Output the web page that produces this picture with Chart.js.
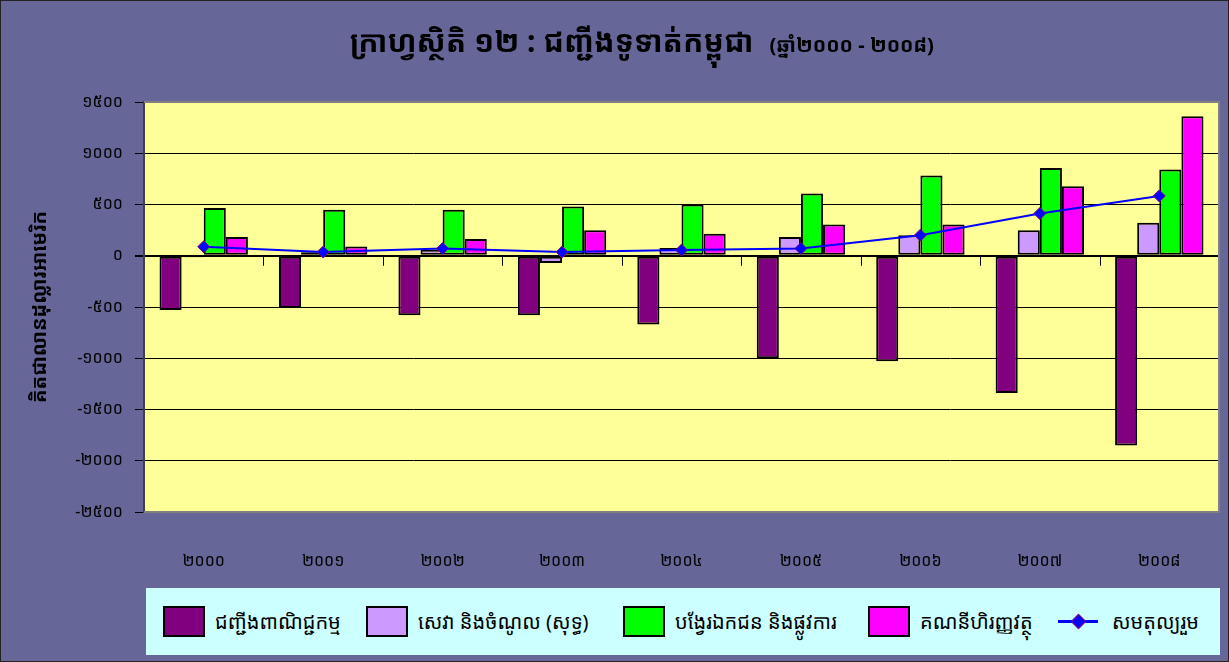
<!DOCTYPE html>
<html><head><meta charset="utf-8">
<script src="https://cdn.jsdelivr.net/npm/chart.js@4.4.1/dist/chart.umd.min.js"></script>
<style>
html,body{margin:0;padding:0;background:#666699;}
#wrap{position:relative;width:1229px;height:662px;overflow:hidden;background:#666699;}
#c{position:absolute;left:0;top:0;}
#frame{position:absolute;left:0;top:0;width:1229px;height:662px;box-sizing:border-box;border:1px solid #222;pointer-events:none;}
#title{position:absolute;top:20px;left:0;width:1284px;text-align:center;font-weight:bold;font-size:30px;color:#000;white-space:nowrap;font-family:'Khmer OS','Noto Sans Khmer','Noto Serif Khmer','Khmer OS System','DejaVu Sans',sans-serif;}
#title .sub{font-size:20px;font-weight:bold;margin-left:16px;}
#legend{position:absolute;left:146px;top:588px;width:1074px;height:67px;background:#CCFFFF;font-family:'Khmer OS','Noto Sans Khmer','Noto Serif Khmer','Khmer OS System','DejaVu Sans',sans-serif;font-size:20px;color:#000;}
.item{position:absolute;top:0;height:67px;display:flex;align-items:center;white-space:nowrap;}
.sw{width:42px;height:31px;border:2px solid #000;box-sizing:border-box;margin-right:10px;}
.ln{position:relative;width:40px;height:31px;margin-right:14px;}
.ln:before{content:'';position:absolute;left:0;top:14px;width:40px;height:3px;background:#0000FF;}
.ln:after{content:'';position:absolute;left:15px;top:10px;width:9px;height:9px;background:#0000FF;border:1px solid #800080;transform:rotate(45deg);}
</style>
</head><body>
<div id="wrap">
<canvas id="c" width="1229" height="662"></canvas>
<div id="title"></div>
<div id="legend"></div>
<div id="frame"></div>
</div>
<script>
const categories = ['២០០០','២០០១','២០០២','២០០៣','២០០៤','២០០៥','២០០៦','២០០៧','២០០៨'];
const tradeBalance = [-530,-510,-580,-580,-670,-1000,-1030,-1340,-1850];
const servicesIncome = [-15,35,58,-70,75,182,200,250,322];
const transfers = [465,448,448,480,500,607,782,857,841];
const financialAccount = [182,91,163,250,214,305,305,679,1361];
const overallBalance = [88,36,71,36,55,71,201,412,584];
const yTickValues = [1500,1000,500,0,-500,-1000,-1500,-2000,-2500];
const yTickLabels = ['១៥០០','១០០០','៥០០','០','-៥០០','-១០០០','-១៥០០','-២០០០','-២៥០០'];
const seriesNames = ['ជញ្ជីងពាណិជ្ជកម្ម','សេវា និងចំណូល (សុទ្ធ)','បង្វែរឯកជន និងផ្លូវការ','គណនីហិរញ្ញវត្ថុ','សមតុល្យរួម'];
const titleMain = 'ក្រាហ្វស្ថិតិ ១២ :  ជញ្ជីងទូទាត់កម្ពុជា';
const titleSub = '(ឆ្នាំ២០០០ - ២០០៨)';
const yAxisTitle = 'គិតជាលានដុល្លារអាមេរិក';
const colors = ['#800080','#CC99FF','#00FF00','#FF00FF','#0000FF'];

const FONT = "'Khmer OS','Noto Sans Khmer','Noto Serif Khmer','Khmer OS System','DejaVu Sans',sans-serif";

document.getElementById('title').innerHTML = titleMain + '<span class="sub">' + titleSub + '</span>';

// legend
const legendLefts = [163, 366, 623, 868, 1058];
const lg = document.getElementById('legend');
seriesNames.forEach((n, i) => {
  const it = document.createElement('div');
  it.className = 'item';
  it.style.left = (legendLefts[i] - 146) + 'px';
  const sw = document.createElement('div');
  if (i < 4) { sw.className = 'sw'; sw.style.background = colors[i]; }
  else { sw.className = 'ln'; }
  const tx = document.createElement('span');
  tx.textContent = n;
  it.appendChild(sw); it.appendChild(tx);
  lg.appendChild(it);
});

const plotDeco = {
  id: 'plotDeco',
  beforeDraw(chart) {
    const {ctx, chartArea: a} = chart;
    ctx.save();
    ctx.fillStyle = '#FFFF99';
    ctx.fillRect(a.left, a.top, a.right - a.left, a.bottom - a.top);
    ctx.restore();
  },
  afterDatasetsDraw(chart) {
    const {ctx, chartArea: a, scales} = chart;
    const y0 = scales.y.getPixelForValue(0);
    const xs = scales.x;
    ctx.save();
    ctx.strokeStyle = '#000';
    ctx.lineWidth = 1;
    const n = categories.length;
    const step = (xs.getPixelForValue(1) - xs.getPixelForValue(0));
    for (let i = 1; i < n; i++) {
      const x = Math.round(xs.getPixelForValue(i) - step / 2) + 0.5;
      ctx.beginPath(); ctx.moveTo(x, y0); ctx.lineTo(x, y0 + 10); ctx.stroke();
    }
    ctx.strokeStyle = '#808080';
    ctx.lineWidth = 2;
    ctx.beginPath();
    ctx.moveTo(a.left, a.top); ctx.lineTo(a.right, a.top); ctx.lineTo(a.right, a.bottom); ctx.lineTo(a.left, a.bottom);
    ctx.stroke();
    ctx.restore();
  }
};

const barDs = (label, data, color) => ({
  type: 'bar', label, data, backgroundColor: color, borderColor: '#000', borderWidth: 2,
  borderSkipped: false, order: 1, categoryPercentage: 0.74, barPercentage: 1.0
});

new Chart(document.getElementById('c'), {
  data: {
    labels: categories,
    datasets: [
      barDs(seriesNames[0], tradeBalance, colors[0]),
      barDs(seriesNames[1], servicesIncome, colors[1]),
      barDs(seriesNames[2], transfers, colors[2]),
      barDs(seriesNames[3], financialAccount, colors[3]),
      {
        type: 'line', label: seriesNames[4], data: overallBalance, borderColor: '#0000FF', borderWidth: 2,
        backgroundColor: '#0000FF', pointStyle: 'rectRot', pointRadius: 6, pointBorderColor: '#800080',
        pointBorderWidth: 1, pointBackgroundColor: '#0000FF', tension: 0, order: 0, fill: false
      }
    ]
  },
  options: {
    responsive: false, animation: false, devicePixelRatio: 1,
    layout: {padding: {top: 102, left: 10, right: 10, bottom: 80}},
    plugins: {legend: {display: false}, title: {display: false}, tooltip: {enabled: false}},
    scales: {
      x: {
        type: 'category',
        grid: {display: false, drawTicks: false},
        border: {display: false},
        ticks: {color: '#000', font: {family: FONT, size: 16}, padding: 40, maxRotation: 0},
        afterFit(s) { s.height = 70; }
      },
      y: {
        min: -2500, max: 1500,
        afterBuildTicks(s) { s.ticks = yTickValues.map(v => ({value: v})); },
        grid: {
          color: '#000', lineWidth: c => (c.tick && c.tick.value === 0) ? 2 : 1,
          tickLength: 9, tickColor: '#000', drawTicks: true
        },
        border: {display: true, color: '#404040', width: 2},
        ticks: {
          color: '#000', font: {family: FONT, size: 16}, padding: 12,
          callback: (v) => { const i = yTickValues.indexOf(v); return i >= 0 ? yTickLabels[i] : ''; }
        },
        title: {display: true, text: yAxisTitle, color: '#000', font: {family: FONT, size: 20, weight: 'bold'}, padding: {top: 18, bottom: 0}},
        afterFit(s) { s.width = 134; }
      }
    }
  },
  plugins: [plotDeco]
});
</script>
</body></html>
